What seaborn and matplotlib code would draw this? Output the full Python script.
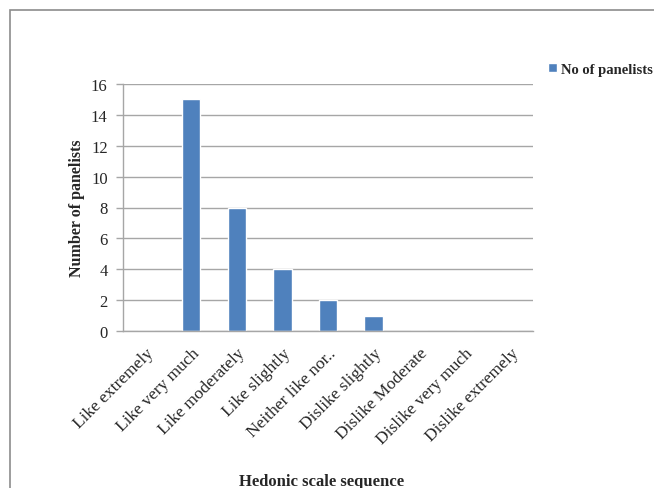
import matplotlib
matplotlib.use("Agg")
import matplotlib.pyplot as plt
import seaborn as sns
import pandas as pd
from matplotlib.patches import Rectangle

categories = ["Like extremely", "Like very much", "Like moderately", "Like slightly",
              "Neither like nor..", "Dislike slightly", "Dislike Moderate",
              "Dislike very much", "Dislike extremely"]
values = [0, 15, 8, 4, 2, 1, 0, 0, 0]
series_name = "No of panelists"
yticks = [0, 2, 4, 6, 8, 10, 12, 14, 16]

df = pd.DataFrame({"cat": categories, "val": values, "series": series_name})

sns.set_theme(style="white")
plt.rcParams['font.family'] = ['Liberation Serif', 'DejaVu Serif']

fig = plt.figure(figsize=(6.54, 4.89), dpi=100)
ax = fig.add_axes([123/654, 1-332/489, (533-123)/654, (332-85)/489])

sns.barplot(data=df, x="cat", y="val", hue="series", palette=["#4F81BD"],
            width=0.4, ax=ax, legend=True, saturation=1)

ax.set_ylim(0, 16)
ax.set_yticks(yticks)
ax.set_xlim(-0.5, len(categories) - 0.5)
ax.yaxis.grid(True, color="#A6A6A6", linewidth=1)
ax.set_axisbelow(True)
for s in ["top", "right"]:
    ax.spines[s].set_visible(False)
for s in ["left", "bottom"]:
    ax.spines[s].set_color("#A6A6A6")
    ax.spines[s].set_linewidth(1)

ax.tick_params(axis="y", length=5, width=1, color="#A6A6A6", left=True, pad=6)
ax.tick_params(axis="x", length=0, pad=10)
for lbl in ax.get_yticklabels():
    lbl.set_fontsize(12)
ax.set_xticks(range(len(categories)))
ax.set_xticklabels(categories, rotation=45, ha="right", va="top",
                   rotation_mode="anchor", fontsize=12.5)

ax.set_ylabel("Number of panelists", fontsize=11.5, fontweight="bold", labelpad=4)
ax.set_xlabel("Hedonic scale sequence", fontsize=12, fontweight="bold")
ax.xaxis.set_label_coords(0.485, -0.575)

leg = ax.legend(loc="upper left", bbox_to_anchor=(542/654, 1-58/489),
                bbox_transform=fig.transFigure, frameon=False,
                fontsize=10.5, handlelength=0.6, handleheight=0.6,
                handletextpad=0.3, borderaxespad=0)
for t in leg.get_texts():
    t.set_fontweight("bold")

fig.patches.append(Rectangle((10/654, -0.1), 1.2, 1 - 11/489 + 0.1,
                             transform=fig.transFigure, fill=False,
                             edgecolor="#8C8C8C", linewidth=1.2))

fig.savefig("out.png", dpi=100)
